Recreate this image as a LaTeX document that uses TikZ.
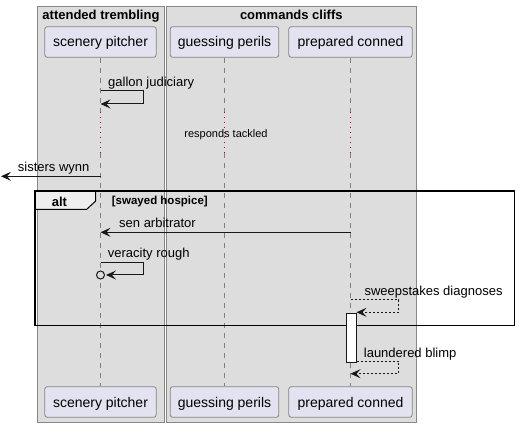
\documentclass[tikz,border=0pt]{standalone}
\usepackage{fontspec}
\setmainfont{Liberation Sans}
\usetikzlibrary{arrows.meta}
\definecolor{grpfill}{HTML}{DDDDDD}
\definecolor{grpline}{HTML}{888888}
\definecolor{partfill}{HTML}{E2E2F0}
\definecolor{partline}{HTML}{858585}
\definecolor{lifecol}{HTML}{808080}
\definecolor{delayred}{HTML}{A80036}
\definecolor{tabfill}{HTML}{EEEEEE}
\definecolor{ink}{HTML}{181818}
\tikzset{
  grp/.style={draw=grpline, fill=grpfill, line width=0.9pt},
  grptitle/.style={font=\fontsize{13}{15}\selectfont\bfseries, inner sep=0pt, anchor=base},
  part/.style={draw=partline, fill=partfill, rounded corners=2.5pt, line width=0.8pt,
    minimum height=30.6pt, inner sep=0pt, text height=10pt, text depth=0pt,
    font=\fontsize{14}{16}\selectfont},
  life/.style={draw=lifecol, line width=0.8pt, dash pattern=on 5pt off 5pt},
  delayline/.style={draw=delayred, line width=1pt, dash pattern=on 1pt off 4pt},
  msg/.style={draw=ink, line width=1pt, -{Stealth[length=10pt,width=9pt,inset=4pt]}},
  rmsg/.style={msg, dash pattern=on 2pt off 2pt},
  lbl/.style={font=\fontsize{13}{15}\selectfont, inner sep=0pt, anchor=base west},
  dlbl/.style={font=\fontsize{11}{13}\selectfont, inner sep=0pt, anchor=base},
  frame/.style={draw=black, line width=1.5pt},
  tabbox/.style={draw=black, line width=1pt, fill=tabfill},
  actbox/.style={draw=ink, fill=white, line width=0.8pt, minimum width=10pt, minimum height=48.7pt, inner sep=0pt},
}
\begin{document}
\begin{tikzpicture}[x=1pt,y=-1pt]
\useasboundingbox (0,0) rectangle (519,427);
% groups
\draw[grp] (37.3,6.3) rectangle (164.7,422.7);
\draw[grp] (166,6.3) rectangle (416.7,422.7);
\node[grptitle] (g1t) at (101,19.5) {attended trembling};
\node[grptitle] (g2t) at (291.3,19.5) {commands cliffs};
% participants
\node[part, minimum width=111.4pt] (spT) at (100.5,42) {scenery pitcher};
\node[part, minimum width=108.6pt] (gpT) at (224.5,42) {guessing perils};
\node[part, minimum width=123.4pt] (pcT) at (350.5,42) {prepared conned};
\node[part, minimum width=111.4pt] (spB) at (100.5,402) {scenery pitcher};
\node[part, minimum width=108.6pt] (gpB) at (224.5,402) {guessing perils};
\node[part, minimum width=123.4pt] (pcB) at (350.5,402) {prepared conned};
% lifelines
\foreach \n/\x in {sp/100.5, gp/224.5, pc/350.5}{
  \coordinate (\n D1) at (\x,112);
  \coordinate (\n D2) at (\x,153);
  \draw[life] (\n T.south) -- (\n D1);
  \draw[delayline] (\n D1) -- (\n D2);
  \draw[life] (\n D2) -- (\n B.north);
}
% delay text
\node[dlbl] (dl) at (226,138) {responds tackled};
% gallon judiciary
\coordinate (m1a) at (100.5,91);
\coordinate (m1c) at (143.7,91);
\coordinate (m1d) at (143.7,104);
\coordinate (m1b) at (100.5,104);
\draw[msg] (m1a) -- (m1c) -- (m1d) -- (m1b);
\node[lbl] (l1) at (108,86.5) {gallon judiciary};
% sisters wynn
\coordinate (m3a) at (100.5,176.3);
\coordinate (m3b) at (1,176.3);
\draw[msg] (m3a) -- (m3b);
\node[lbl] (l3) at (17.7,172) {sisters wynn};
% alt frame
\coordinate (fa) at (35,191);
\coordinate (fb) at (514.3,325.7);
\draw[tabbox] (35,191) -- (95.7,191) -- (95.7,201) -- (86.7,209.3) -- (35,209.3) -- cycle;
\draw[frame] (fa) rectangle (fb);
\node[font=\fontsize{13}{15}\selectfont\bfseries, inner sep=0pt, anchor=base west] (altl) at (51.7,206.5) {alt};
\node[font=\fontsize{11.5}{13}\selectfont\bfseries, inner sep=0pt, anchor=base west] (guard) at (111.7,205) {[swayed hospice]};
% sen arbitrator
\coordinate (m5a) at (350.5,232.3);
\coordinate (m5b) at (100.5,232.3);
\draw[msg] (m5a) -- (m5b);
\node[lbl] (l5) at (119,227.3) {sen arbitrator};
% veracity rough
\coordinate (m6a) at (100.5,262.3);
\coordinate (m6c) at (143.7,262.3);
\coordinate (m6d) at (143.7,275);
\coordinate (m6b) at (106,275);
\coordinate (vc) at (100.5,275);
\draw[msg] (m6a) -- (m6c) -- (m6d) -- (m6b);
\draw[draw=ink, fill=grpfill, line width=1pt] (vc) circle (4pt);
\node[lbl] (l6) at (107.7,257.7) {veracity rough};
% sweepstakes diagnoses
\coordinate (m7a) at (350.5,300);
\coordinate (m7c) at (398.7,300);
\coordinate (m7d) at (398.7,312.3);
\coordinate (m7b) at (356.5,312.3);
\draw[rmsg] (m7a) -- (m7c) -- (m7d) -- (m7b);
\node[lbl] (l7) at (364.3,296) {sweepstakes diagnoses};
% activation
\node[actbox] (act) at (351.5,337.7) {};
% laundered blimp
\coordinate (m8a) at (356.5,361.5);
\coordinate (m8c) at (398.7,361.5);
\coordinate (m8d) at (398.7,373.7);
\coordinate (m8b) at (350.5,373.7);
\draw[rmsg] (m8a) -- (m8c) -- (m8d) -- (m8b);
\node[lbl] (l8) at (363.7,357) {laundered blimp};
\end{tikzpicture}
\end{document}
